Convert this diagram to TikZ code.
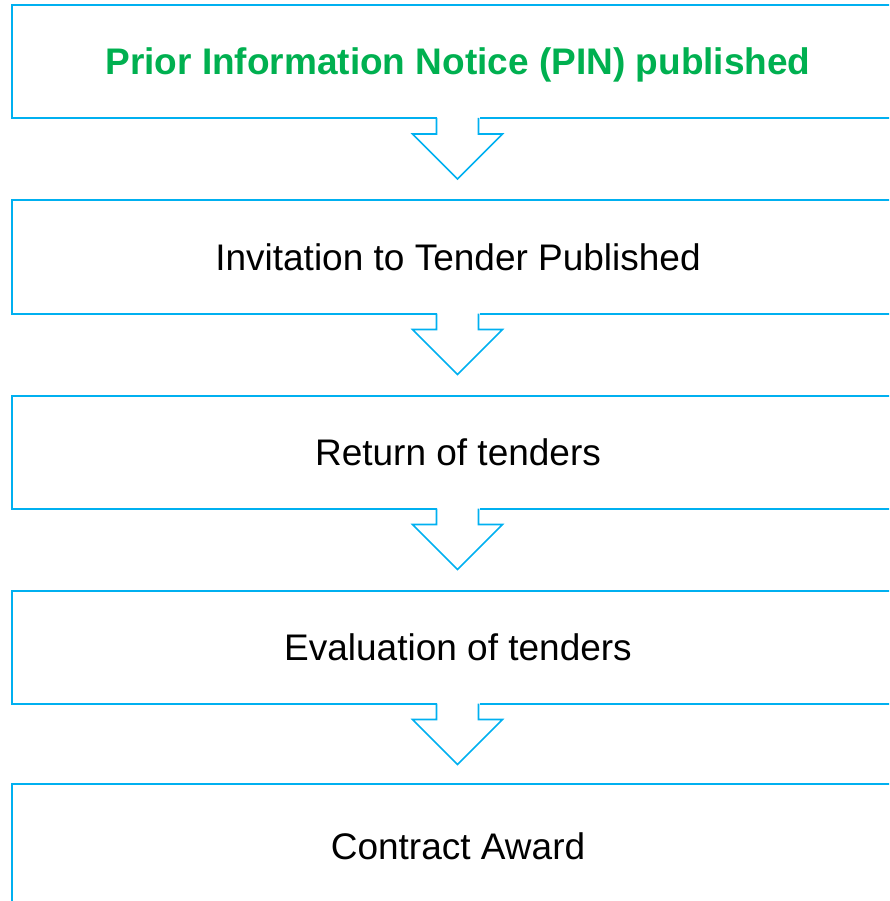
\documentclass[tikz,border=0pt]{standalone}
\usepackage{fontspec}
\setmainfont{Liberation Sans}
\definecolor{boxblue}{HTML}{00B0F0}
\definecolor{pingreen}{HTML}{00B050}

\begin{document}
\begin{tikzpicture} [x=1pt, y=-1pt,
    every node/.style={draw=boxblue, line width=2pt, minimum width=892pt, minimum height=113pt,
                       inner sep=0pt, outer sep=0pt, font=\fontsize{37}{44}\selectfont}]
            \clip (0,0) rectangle (889,901);
            \useasboundingbox (0,0) rectangle (889,901);

            \node[text=pingreen, text depth=0pt, font=\fontsize{37}{44}\selectfont\bfseries] (pin) at (458, 61.5) {Prior Information Notice (PIN) published};
            \node (itt)   at (458, 257)   {Invitation to Tender Published};
            \node (ret)   at (458, 452)   {Return of tenders};
            \node (eval)  at (458, 647)   {Evaluation of tenders};
            \node[minimum height=124pt] (award) at (458, 846) {Contract Award};

            \foreach \n in {pin, itt, ret, eval} {
                \fill[white] ([xshift=-21.5pt, yshift=3pt]\n.south) rectangle ([xshift=21.5pt, yshift=-3pt]\n.south);
                \draw[boxblue, line width=1.6pt] ([xshift=-21.5pt]\n.south)
                    -- ++(0,16) -- ++(-24,0) -- ++(45,45) -- ++(45,-45) -- ++(-24,0) -- ++(0,-16);
            }
        \end{tikzpicture}
\end{document}
